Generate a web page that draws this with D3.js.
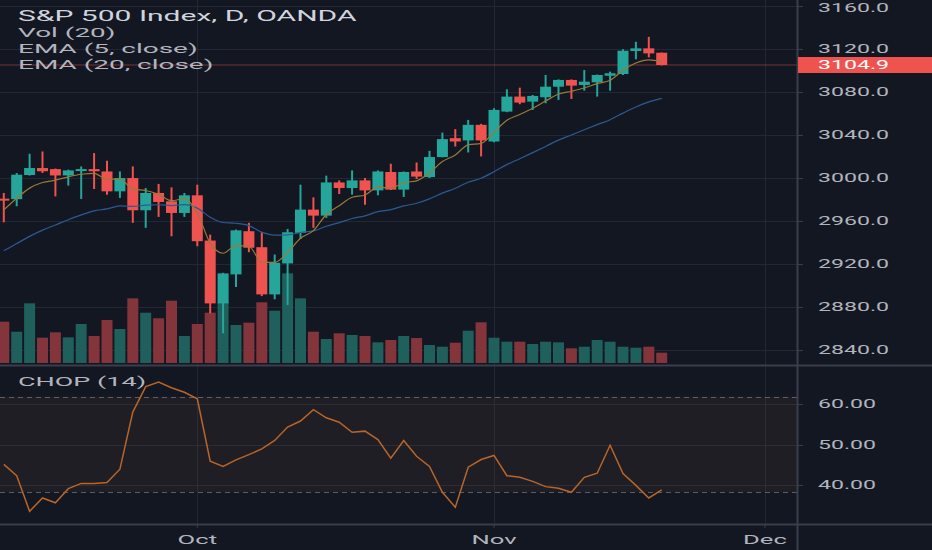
<!DOCTYPE html>
<html>
<head>
<meta charset="utf-8">
<script src="https://cdn.jsdelivr.net/npm/d3@7"></script>
<style>
    html, body { margin: 0; padding: 0; background: #131722; }
    svg { display: block; }
    text { font-family: Roboto, "Liberation Sans", sans-serif; }
</style>
</head>
<body>
<svg id="chart" width="932" height="550"></svg>
<script>

// S&P 500 Index, daily, OANDA  (10 Sep 2019 .. 20 Nov 2019)

let dates = [
    '2019-09-10', '2019-09-11', '2019-09-12', '2019-09-13', '2019-09-16', '2019-09-17',
    '2019-09-18', '2019-09-19', '2019-09-20', '2019-09-23', '2019-09-24', '2019-09-25',
    '2019-09-26', '2019-09-27', '2019-09-30', '2019-10-01', '2019-10-02', '2019-10-03',
    '2019-10-04', '2019-10-07', '2019-10-08', '2019-10-09', '2019-10-10', '2019-10-11',
    '2019-10-14', '2019-10-15', '2019-10-16', '2019-10-17', '2019-10-18', '2019-10-21',
    '2019-10-22', '2019-10-23', '2019-10-24', '2019-10-25', '2019-10-28', '2019-10-29',
    '2019-10-30', '2019-10-31', '2019-11-01', '2019-11-04', '2019-11-05', '2019-11-06',
    '2019-11-07', '2019-11-08', '2019-11-11', '2019-11-12', '2019-11-13', '2019-11-14',
    '2019-11-15', '2019-11-18', '2019-11-19', '2019-11-20'
];

let opens = [
    2980.5, 2980.0, 3002.5, 3009.0, 3008.0, 3002.1, 3006.5, 3008.0, 3005.8, 2987.3,
    2999.7, 2969.7, 2985.8, 2978.0, 2967.2, 2983.6, 2941.5, 2883.0, 2910.0, 2950.2,
    2935.3, 2891.4, 2920.2, 2948.7, 2970.3, 2964.7, 2995.6, 2990.4, 2997.5, 2988.2,
    3005.3, 2988.9, 3005.8, 3000.6, 3019.2, 3036.8, 3034.7, 3049.2, 3033.7, 3061.5,
    3075.5, 3070.8, 3074.9, 3084.7, 3091.0, 3086.3, 3088.8, 3094.9, 3096.5, 3117.9,
    3120.4, 3116.3
];
let highs = [
    2985.8, 3004.4, 3022.3, 3024.4, 3008.5, 3007.5, 3010.5, 3022.9, 3015.8, 3005.8,
    3010.5, 2990.4, 2994.2, 2991.0, 2985.8, 2993.5, 2947.0, 2911.5, 2951.7, 2958.0,
    2949.2, 2928.5, 2952.3, 2993.5, 2981.7, 3001.9, 2997.5, 3006.8, 2999.7, 3006.8,
    3013.0, 3005.8, 3014.2, 3025.0, 3042.0, 3045.2, 3053.8, 3050.1, 3064.7, 3082.3,
    3083.8, 3077.0, 3095.6, 3091.5, 3091.5, 3100.2, 3096.0, 3098.7, 3119.5, 3126.5,
    3131.1, 3116.5
];
let lows = [
    2958.5, 2973.4, 3002.0, 3004.4, 2982.6, 2992.6, 2980.2, 2989.5, 2984.2, 2981.2,
    2958.0, 2953.3, 2963.5, 2945.5, 2963.5, 2936.2, 2873.8, 2855.2, 2898.2, 2930.7,
    2889.8, 2886.8, 2881.5, 2943.0, 2953.3, 2962.6, 2984.8, 2984.2, 2974.9, 2983.6,
    2988.5, 2982.1, 2998.8, 2999.7, 3019.0, 3029.0, 3023.5, 3019.8, 3033.0, 3061.0,
    3068.4, 3063.1, 3069.3, 3072.4, 3073.3, 3081.0, 3075.5, 3081.0, 3095.6, 3110.2,
    3112.0, 3104.5
];
let closes = [
    2979.6, 3002.8, 3009.0, 3006.0, 3002.1, 3006.8, 3008.0, 3006.0, 2987.3, 2999.7,
    2969.7, 2985.8, 2977.4, 2967.2, 2983.6, 2940.9, 2883.0, 2910.9, 2951.0, 2934.8,
    2891.4, 2920.8, 2949.2, 2970.3, 2964.7, 2995.6, 2990.4, 2997.5, 2988.2, 3005.8,
    2988.9, 3005.3, 3001.0, 3019.2, 3035.9, 3033.7, 3049.2, 3034.7, 3063.1, 3075.5,
    3069.9, 3076.1, 3084.7, 3091.0, 3085.7, 3089.4, 3095.6, 3097.2, 3118.2, 3120.4,
    3115.7, 3104.9
];
// volume, thousands
let volumes = [
    41.3, 31.3, 59.7, 25.3, 30.7, 25.7, 39.0, 27.0, 43.0, 34.0,
    64.7, 50.3, 44.7, 62.3, 27.0, 39.0, 50.3, 61.0, 38.0, 40.3,
    60.7, 52.3, 89.7, 64.7, 31.3, 24.0, 29.7, 28.0, 27.0, 20.7,
    23.0, 27.0, 25.0, 18.0, 16.3, 20.3, 32.3, 40.7, 25.3, 21.3,
    21.3, 19.0, 21.3, 20.7, 14.7, 16.3, 23.0, 21.3, 16.3, 15.3,
    16.3, 10.3
];
let ema5 = [
    2970.0, 2980.9, 2990.3, 2995.5, 2997.7, 3000.8, 3003.2, 3004.1, 2998.5, 2998.9,
    2989.2, 2988.1, 2984.5, 2978.7, 2980.3, 2967.2, 2939.1, 2929.7, 2936.8, 2936.2,
    2921.3, 2921.1, 2930.4, 2943.6, 2950.7, 2965.7, 2973.9, 2981.8, 2983.9, 2991.2,
    2990.4, 2995.4, 2997.1, 3004.5, 3015.0, 3021.2, 3030.5, 3031.9, 3042.3, 3053.4,
    3058.9, 3064.6, 3071.3, 3077.9, 3080.5, 3083.5, 3087.5, 3090.7, 3099.9, 3106.7,
    3109.7, 3108.1
];
let ema20 = [
    2932.0, 2938.7, 2945.4, 2951.2, 2956.0, 2960.9, 2965.4, 2969.2, 2970.9, 2973.7,
    2973.3, 2974.5, 2974.8, 2974.0, 2974.9, 2971.7, 2963.2, 2958.3, 2957.6, 2955.4,
    2949.3, 2946.6, 2946.8, 2949.0, 2950.5, 2954.8, 2958.2, 2962.0, 2964.5, 2968.4,
    2970.3, 2973.7, 2976.2, 2980.3, 2985.6, 2990.2, 2995.8, 2999.5, 3005.6, 3012.2,
    3017.7, 3023.3, 3029.1, 3035.0, 3039.8, 3044.6, 3049.4, 3054.0, 3060.1, 3065.8,
    3070.6, 3073.9
];
let chop = [
    45.1, 42.3, 33.5, 36.8, 35.6, 39.1, 40.4, 40.4, 40.6, 43.9,
    58.0, 64.3, 65.4, 64.0, 62.9, 61.3, 45.9, 44.6, 46.2, 47.5,
    48.9, 51.0, 54.3, 55.8, 58.6, 56.6, 55.5, 53.0, 53.3, 51.2,
    46.6, 51.0, 47.1, 44.6, 38.2, 34.5, 44.4, 46.3, 47.3, 42.3,
    41.9, 40.9, 39.6, 39.2, 38.2, 41.9, 42.9, 49.8, 42.8, 39.9,
    36.8, 38.8
];

let priceTicks = [2840, 2880, 2920, 2960, 3000, 3040, 3080, 3120, 3160];
let chopTicks = [40, 50, 60];
let chopBand = [38.2, 61.8];
let monthTicks = [
    {label: 'Oct', date: '2019-10-01'},
    {label: 'Nov', date: '2019-11-01'},
    {label: 'Dec', date: '2019-12-02'}
];

let legendLines = ['S&P 500 Index, D, OANDA', 'Vol (20)', 'EMA (5, close)', 'EMA (20, close)'];


// ---- layout / style ----

const W = 932, H = 550;
const axisX = 797;
const paneSplit = 365, chopBottom = 524;

const col = {
    bg: '#131722',
    grid: '#232733',
    border: '#3a3e4a',
    up: '#26a69a',
    down: '#ef5350',
    upVol: '#1f5f5c',
    downVol: '#83353b',
    ema5: '#9a7a3a',
    ema20: '#2c5a92',
    chop: '#b8652a',
    text: '#b2b5be',
    title: '#d1d4dc'
};

let svg = d3.select('#chart');

let parseDate = d3.timeParse('%Y-%m-%d');
let day0 = parseDate(dates[0]);

function barIndex(dateStr) {
    let d = parseDate(dateStr);
    return d3.timeDay.range(day0, d).filter(dd => dd.getDay() % 6 !== 0).length;
}

let xIdx = d3.scaleLinear().domain([0, dates.length - 1]).range([3.8, 661.7]);
let yPrice = d3.scaleLinear().domain([2840, 3160]).range([349.6, 5.8]);
let yVol = d3.scaleLinear().domain([0, 100]).range([363, 263]);
let yChop = d3.scaleLinear().domain([40, 60]).range([485, 404]);

let barW = 11;

// the screenshot is stretched sideways, so every text gets a horizontal scale
function addText(g, str, x, y, color, size, sx, anchor) {
    return g.append('text')
        .attr('transform', `translate(${x},${y}) scale(${sx},1)`)
        .attr('dominant-baseline', 'central')
        .attr('text-anchor', anchor || 'start')
        .attr('font-size', size)
        .attr('fill', color)
        .text(str);
}

svg.append('rect').attr('width', W).attr('height', H).attr('fill', col.bg);

let candles = dates.map((d, i) => ({
    i: i, date: d,
    o: opens[i], h: highs[i], l: lows[i], c: closes[i],
    v: volumes[i]
}));


// ---- grid ----

let gridG = svg.append('g');

gridG.selectAll('.hgrid')
    .data(priceTicks)
    .enter()
    .append('line')
    .attr('x1', 0).attr('x2', axisX)
    .attr('y1', d => Math.round(yPrice(d)) + 0.5)
    .attr('y2', d => Math.round(yPrice(d)) + 0.5)
    .attr('stroke', col.grid);

gridG.selectAll('.cgrid')
    .data(chopTicks)
    .enter()
    .append('line')
    .attr('x1', 0).attr('x2', axisX)
    .attr('y1', d => Math.round(yChop(d)) + 0.5)
    .attr('y2', d => Math.round(yChop(d)) + 0.5)
    .attr('stroke', col.grid);

gridG.selectAll('.vgrid')
    .data(monthTicks)
    .enter()
    .append('line')
    .attr('x1', d => Math.round(xIdx(barIndex(d.date))) + 0.5)
    .attr('x2', d => Math.round(xIdx(barIndex(d.date))) + 0.5)
    .attr('y1', 0).attr('y2', chopBottom)
    .attr('stroke', col.grid);


// ---- volume ----

svg.append('g')
    .selectAll('rect')
    .data(candles)
    .enter()
    .append('rect')
    .attr('x', d => xIdx(d.i) - barW / 2)
    .attr('width', barW)
    .attr('y', d => yVol(d.v))
    .attr('height', d => yVol(0) - yVol(d.v))
    .attr('fill', d => d.c >= d.o ? col.upVol : col.downVol);


// ---- last price line ----

let last = closes[closes.length - 1];
svg.append('line')
    .attr('x1', 0).attr('x2', axisX)
    .attr('y1', yPrice(last)).attr('y2', yPrice(last))
    .attr('stroke', col.down)
    .attr('stroke-opacity', 0.45);


// ---- candles ----

let candleG = svg.append('g')
    .selectAll('g')
    .data(candles)
    .enter()
    .append('g');

candleG.append('line')
    .attr('x1', d => xIdx(d.i)).attr('x2', d => xIdx(d.i))
    .attr('y1', d => yPrice(d.h)).attr('y2', d => yPrice(d.l))
    .attr('stroke', d => d.c >= d.o ? col.up : col.down)
    .attr('stroke-width', 2);

candleG.append('rect')
    .attr('x', d => xIdx(d.i) - barW / 2)
    .attr('width', barW)
    .attr('y', d => yPrice(Math.max(d.o, d.c)))
    .attr('height', d => Math.max(2, Math.abs(yPrice(d.o) - yPrice(d.c))))
    .attr('fill', d => d.c >= d.o ? col.up : col.down);


// ---- EMAs ----

let emaLine = (vals) => d3.line()
    .x((v, i) => xIdx(i))
    .y(v => yPrice(v))
    .curve(d3.curveMonotoneX)(vals);

svg.append('path')
    .attr('d', emaLine(ema20))
    .attr('fill', 'none')
    .attr('stroke', col.ema20)
    .attr('stroke-width', 1.2);

svg.append('path')
    .attr('d', emaLine(ema5))
    .attr('fill', 'none')
    .attr('stroke', col.ema5)
    .attr('stroke-width', 1.2);


// ---- CHOP pane ----

let chopG = svg.append('g');

chopG.append('rect')
    .attr('x', 0).attr('width', axisX)
    .attr('y', yChop(chopBand[1]))
    .attr('height', yChop(chopBand[0]) - yChop(chopBand[1]))
    .attr('fill', 'rgb(150,110,70)')
    .attr('fill-opacity', 0.09);

chopG.selectAll('.band')
    .data(chopBand)
    .enter()
    .append('line')
    .attr('x1', 0).attr('x2', axisX)
    .attr('y1', d => Math.round(yChop(d)) + 0.5)
    .attr('y2', d => Math.round(yChop(d)) + 0.5)
    .attr('stroke', '#787b86')
    .attr('stroke-opacity', 0.7)
    .attr('stroke-dasharray', '5,4');

chopG.append('path')
    .attr('d', d3.line().x((v, i) => xIdx(i)).y(v => yChop(v))(chop))
    .attr('fill', 'none')
    .attr('stroke', col.chop)
    .attr('stroke-width', 1.5);


// ---- pane borders / axes ----

svg.append('line')
    .attr('x1', 0).attr('x2', W)
    .attr('y1', paneSplit + 0.5).attr('y2', paneSplit + 0.5)
    .attr('stroke', col.border).attr('stroke-width', 2);

svg.append('line')
    .attr('x1', 0).attr('x2', W)
    .attr('y1', chopBottom + 0.5).attr('y2', chopBottom + 0.5)
    .attr('stroke', col.border).attr('stroke-width', 2);

svg.append('line')
    .attr('x1', axisX + 0.5).attr('x2', axisX + 0.5)
    .attr('y1', 0).attr('y2', H)
    .attr('stroke', col.border).attr('stroke-width', 2);

let axisG = svg.append('g');

priceTicks.forEach(p => {
    axisG.append('line')
        .attr('x1', axisX).attr('x2', axisX + 6)
        .attr('y1', Math.round(yPrice(p)) + 0.5).attr('y2', Math.round(yPrice(p)) + 0.5)
        .attr('stroke', col.border);
    addText(axisG, d3.format('.1f')(p), 818, Math.max(8, yPrice(p)), col.text, 12.5, 1.85);
});

chopTicks.forEach(v => {
    axisG.append('line')
        .attr('x1', axisX).attr('x2', axisX + 6)
        .attr('y1', Math.round(yChop(v)) + 0.5).attr('y2', Math.round(yChop(v)) + 0.5)
        .attr('stroke', col.border);
    addText(axisG, d3.format('.2f')(v), 818, yChop(v), col.text, 12.5, 1.85);
});

// last price tag
axisG.append('rect')
    .attr('x', axisX + 1).attr('width', W - axisX)
    .attr('y', yPrice(last) - 8).attr('height', 16)
    .attr('fill', col.down);
addText(axisG, d3.format('.1f')(last), 818, yPrice(last), '#ffffff', 12.5, 1.85);

monthTicks.forEach(m => {
    let x = xIdx(barIndex(m.date));
    axisG.append('line')
        .attr('x1', x).attr('x2', x)
        .attr('y1', chopBottom).attr('y2', chopBottom + 4)
        .attr('stroke', col.border);
    addText(axisG, m.label, x, 539, col.text, 13.5, 1.9, 'middle');
});


// ---- legends ----

let legendG = svg.append('g');
legendLines.forEach((s, k) => {
    addText(legendG, s, 18, 16 + k * 16,
            k === 0 ? col.title : col.text, k === 0 ? 14.5 : 13.5, 2.07);
});
addText(legendG, 'CHOP (14)', 18, 381, col.text, 13.5, 2.0);

</script>
</body>
</html>
